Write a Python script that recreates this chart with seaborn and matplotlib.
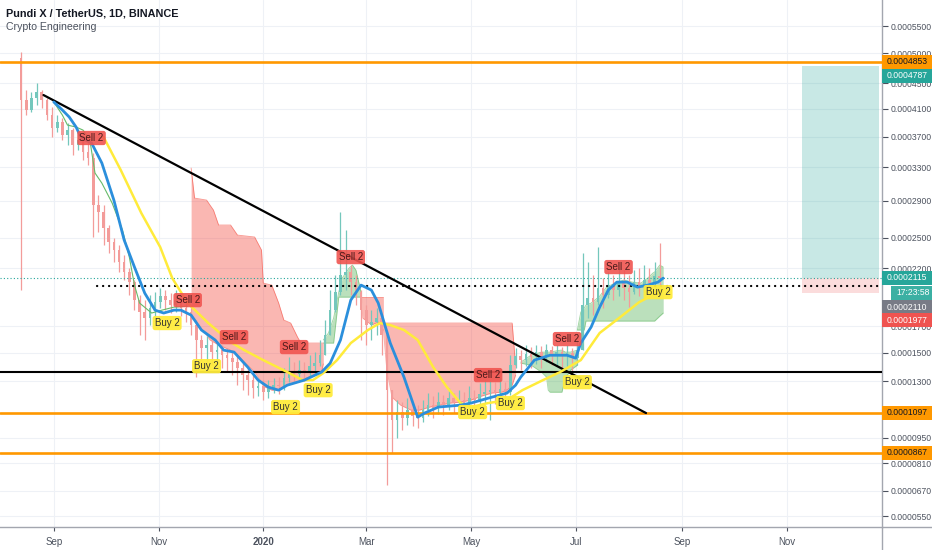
import numpy as np
import pandas as pd
import matplotlib
matplotlib.use("Agg")
import matplotlib.pyplot as plt
import matplotlib.dates as mdates
from matplotlib.patches import Rectangle
from matplotlib.lines import Line2D
from matplotlib import font_manager
import seaborn as sns

# ---------------- data (all prices in units of 1e-7 USDT) ----------------
UNIT = 1e-7

candle_start = "2019-08-13"
candle_step = "3D"
first_open = 4920
candle_close = [4235, 4084, 4266, 4359, 4235, 4010, 3823, 3909, 3726, 3795,
                3590, 3658, 3497, 3418, 2850, 2772, 2600, 2456, 2376, 2259,
                2165, 2074, 1916, 1816, 1767, 1849, 1899, 1950, 1916, 1874,
                1916, 1849, 1816, 1711, 1595, 1534, 1557, 1505, 1519, 1482,
                1461, 1432, 1390, 1342, 1308, 1254, 1267, 1228, 1254, 1274,
                1267, 1321, 1363, 1349, 1376, 1363, 1404, 1425, 1482, 1633,
                1832, 1985, 2137, 2165, 2074, 1985, 1832, 1711, 1735, 1767,
                1633, 1241, 1053, 1102, 1065, 1114, 1077, 1065, 1114, 1145,
                1127, 1164, 1145, 1189, 1158, 1177, 1152, 1189, 1177, 1215,
                1228, 1241, 1222, 1248, 1228, 1411, 1475, 1447, 1490, 1468,
                1505, 1475, 1519, 1482, 1505, 1475, 1497, 1461, 1519, 1874,
                1933, 1899, 2020, 1959, 2047, 2003, 2074, 2020, 1985, 2074,
                2038, 2092, 2065, 2128, 2115]
candle_high = [5025, 4391, 4359, 4503, 4391, 4266, 4129, 4010, 3966, 3894,
               3823, 3768, 3685, 3658, 3484, 2965, 2850, 2632, 2497, 2425,
               2327, 2202, 2092, 1959, 1916, 1959, 1985, 2020, 2003, 1976,
               2003, 1950, 1916, 1874, 1751, 1633, 1625, 1595, 1572, 1557,
               1534, 1519, 1482, 1432, 1390, 1342, 1321, 1308, 1308, 1321,
               1328, 1390, 1468, 1432, 1447, 1432, 1482, 1505, 1595, 1751,
               2003, 2137, 2772, 2579, 2231, 2137, 2003, 1874, 1832, 1849,
               1791, 1672, 1209, 1177, 1164, 1189, 1158, 1145, 1177, 1222,
               1202, 1228, 1209, 1254, 1222, 1241, 1228, 1267, 1241, 1288,
               1308, 1308, 1294, 1321, 1294, 1482, 1534, 1519, 1557, 1542,
               1557, 1549, 1564, 1549, 1557, 1542, 1557, 1534, 1595, 2346,
               2259, 2137, 2405, 2110, 2165, 2137, 2202, 2184, 2137, 2184,
               2202, 2231, 2202, 2259, 2446]
candle_low = [2003, 4010, 4055, 4159, 4114, 3937, 3698, 3768, 3658, 3590,
              3457, 3523, 3393, 3329, 2507, 2559, 2425, 2346, 2259, 2165,
              2092, 1959, 1832, 1633, 1595, 1711, 1767, 1849, 1832, 1808,
              1816, 1783, 1735, 1633, 1328, 1447, 1432, 1411, 1432, 1390,
              1363, 1342, 1274, 1241, 1209, 1189, 1202, 1177, 1189, 1222,
              1215, 1241, 1294, 1288, 1308, 1301, 1328, 1349, 1404, 1519,
              1672, 1816, 1959, 2003, 1959, 1874, 1595, 1557, 1595, 1633,
              1482, 697, 864, 948, 994, 1023, 1017, 1005, 1041, 1077,
              1065, 1089, 1083, 1114, 1096, 1102, 1089, 1114, 1102, 1145,
              1158, 1053, 1152, 1177, 1164, 1209, 1390, 1376, 1404, 1390,
              1418, 1390, 1432, 1411, 1404, 1376, 1390, 1363, 1411, 1519,
              1767, 1791, 1874, 1849, 1933, 1916, 1950, 1916, 1857, 1968,
              1950, 1985, 1976, 2003, 2047]

blue_dates = ["2019-09-01", "2019-09-06", "2019-09-10", "2019-09-14", "2019-09-17",
              "2019-09-23", "2019-09-29", "2019-10-06", "2019-10-12", "2019-10-18",
              "2019-10-24", "2019-10-30", "2019-11-04", "2019-11-10", "2019-11-14",
              "2019-11-20", "2019-11-26", "2019-12-04", "2019-12-09", "2019-12-15",
              "2019-12-23", "2019-12-29", "2020-01-04", "2020-01-10", "2020-01-15",
              "2020-01-25", "2020-02-04", "2020-02-09", "2020-02-15", "2020-02-21",
              "2020-02-27", "2020-03-04", "2020-03-08", "2020-03-15", "2020-03-23",
              "2020-03-31", "2020-04-04", "2020-04-12", "2020-04-25", "2020-05-01",
              "2020-05-11", "2020-05-22", "2020-05-27", "2020-05-30", "2020-06-07",
              "2020-06-16", "2020-06-26", "2020-07-01", "2020-07-04", "2020-07-10",
              "2020-07-15", "2020-07-20", "2020-07-25", "2020-07-31", "2020-08-06",
              "2020-08-12", "2020-08-18", "2020-08-21"]
blue_price = [4205, 4084, 3981, 3837, 3685, 3617, 3354, 2907, 2476, 2212,
              1976, 1832, 1808, 1832, 1832, 1791, 1672, 1595, 1519, 1505,
              1397, 1308, 1261, 1241, 1274, 1308, 1363, 1425, 1595, 1916,
              2047, 2003, 1891, 1572, 1328, 1071, 1096, 1133, 1145, 1158,
              1189, 1222, 1274, 1328, 1447, 1482, 1482, 1461, 1572, 1695,
              1857, 2003, 2074, 2074, 2029, 2047, 2074, 2110]

yellow_dates = ["2019-09-30", "2019-10-10", "2019-10-22", "2019-11-02", "2019-11-09",
                "2019-11-18", "2019-11-30", "2019-12-13", "2019-12-21", "2020-01-01",
                "2020-01-15", "2020-01-24", "2020-01-30", "2020-02-05", "2020-02-13",
                "2020-02-21", "2020-03-02", "2020-03-09", "2020-03-15", "2020-03-23",
                "2020-03-31", "2020-04-09", "2020-04-17", "2020-04-25", "2020-05-01",
                "2020-05-11", "2020-05-22", "2020-05-31", "2020-06-12", "2020-06-22",
                "2020-07-04", "2020-07-15", "2020-07-27", "2020-08-07", "2020-08-17",
                "2020-08-21"]
yellow_price = [3698, 3266, 2761, 2405, 2110, 1891, 1727, 1580, 1519, 1447,
                1363, 1308, 1308, 1356, 1447, 1572, 1672, 1727, 1711, 1672,
                1595, 1397, 1261, 1158, 1133, 1158, 1177, 1241, 1308, 1363,
                1447, 1649, 1775, 1899, 1976, 2003]

thin_dates = ["2019-09-01", "2019-09-06", "2019-09-09", "2019-09-14", "2019-09-18",
              "2019-09-22", "2019-09-25", "2019-09-29", "2019-10-05", "2019-10-11",
              "2019-10-15", "2019-10-18", "2019-10-21", "2019-10-28", "2019-11-03",
              "2019-11-10", "2019-11-18"]
thin_price = [4205, 4010, 3865, 3837, 3795, 3658, 3229, 3106, 2873, 2579,
              2307, 2047, 1891, 1808, 1832, 1857, 1865]

# clouds
red_a_dates = ["2019-11-20", "2019-11-22", "2019-11-29", "2019-12-01", "2019-12-03",
               "2019-12-06", "2019-12-13", "2019-12-17", "2019-12-27", "2019-12-31",
               "2020-01-01", "2020-01-06", "2020-01-10", "2020-01-13", "2020-01-17",
               "2020-01-21", "2020-01-23", "2020-02-04", "2020-02-05"]
red_a_top = [3291, 2930, 2907, 2850, 2795, 2632, 2632, 2527, 2507, 2376,
             2065, 2047, 1891, 1751, 1727, 1617, 1572, 1572, 1572]
red_a_bot = [1767, 1751, 1633, 1595, 1580, 1557, 1519, 1482, 1363, 1294,
             1267, 1241, 1241, 1267, 1281, 1294, 1308, 1363, 1420]

green_b_dates = ["2020-02-05", "2020-02-08", "2020-02-11", "2020-02-14", "2020-02-16",
                 "2020-02-20", "2020-02-22", "2020-02-24", "2020-02-27"]
green_b_top = [1595, 1649, 1767, 1985, 2110, 2202, 2231, 2184, 1985]
green_b_bot = [1572, 1572, 1572, 1942, 1942, 1942, 1942, 1942, 1942]

red_d_dates = ["2020-02-27", "2020-02-28", "2020-03-04", "2020-03-08", "2020-03-11"]
red_d_top = [1942, 1942, 1942, 1942, 1942]
red_d_bot = [1942, 1767, 1711, 1735, 1672]

red_e_dates = ["2020-03-11", "2020-03-13", "2020-03-16", "2020-03-21", "2020-03-27",
               "2020-04-01", "2020-04-07", "2020-04-13", "2020-04-19", "2020-04-25",
               "2020-05-01", "2020-05-07", "2020-05-13", "2020-05-19", "2020-05-22",
               "2020-05-25", "2020-05-27"]
red_e_top = [1727, 1727, 1727, 1727, 1727, 1727, 1727, 1727, 1727, 1727,
             1727, 1727, 1727, 1727, 1727, 1727, 1411]
red_e_bot = [1672, 1376, 1196, 1145, 1114, 1114, 1133, 1145, 1158, 1164,
             1177, 1202, 1222, 1228, 1241, 1274, 1342]

green_g_dates = ["2020-05-30", "2020-06-05", "2020-06-11", "2020-06-14", "2020-06-15",
                 "2020-06-16", "2020-06-22", "2020-06-23", "2020-06-25", "2020-06-28",
                 "2020-07-02"]
green_g_top = [1432, 1482, 1505, 1505, 1505, 1505, 1519, 1519, 1505, 1505, 1519]
green_g_bot = [1425, 1411, 1363, 1328, 1241, 1228, 1228, 1228, 1321, 1376, 1411]

green_h_dates = ["2020-07-02", "2020-07-04", "2020-07-06", "2020-07-07", "2020-07-10",
                 "2020-07-15", "2020-07-19", "2020-07-24", "2020-07-29", "2020-08-03",
                 "2020-08-08", "2020-08-12", "2020-08-15", "2020-08-16", "2020-08-19",
                 "2020-08-21"]
green_h_top = [1672, 1816, 1849, 1874, 1891, 1950, 2029, 2065, 2092, 2074,
               2065, 2110, 2156, 2165, 2231, 2212]
green_h_bot = [1672, 1672, 1672, 1743, 1743, 1743, 1743, 1743, 1743, 1743,
               1743, 1743, 1743, 1743, 1783, 1808]

sell_dates = ["2019-09-23", "2019-11-18", "2019-12-15", "2020-01-19",
              "2020-02-21", "2020-05-11", "2020-06-26", "2020-07-26"]
sell_price = [3685, 1916, 1617, 1542, 2307, 1342, 1602, 2212]
buy_dates = ["2019-11-06", "2019-11-29", "2020-01-14", "2020-02-02",
             "2020-05-02", "2020-05-24", "2020-07-02", "2020-08-18"]
buy_price = [1727, 1404, 1133, 1241, 1102, 1158, 1294, 1985]

trend_dates = ["2019-08-26", "2020-08-11"]
trend_price = [4312, 1096]
orange_levels = [4853, 1097, 867]
black_level = 1363
dotted_level = 2038
dotted_start = "2019-09-26"
last_price = 2115
position_dates = ["2020-11-10", "2020-12-25"]
position_target = 4787
position_stop = 1977

y_ticks = [5500, 5000, 4500, 4100, 3700, 3300, 2900, 2500, 2200, 1700,
           1500, 1300, 950, 810, 670, 550]
month_ticks = ["2019-09-01", "2019-11-01", "2020-01-01", "2020-03-01",
               "2020-05-01", "2020-07-01", "2020-09-01", "2020-11-01"]
month_labels = ["Sep", "Nov", "2020", "Mar", "May", "Jul", "Sep", "Nov"]

# ---------------- style ----------------
sns.set_theme(style="white")
names = {f.name for f in font_manager.fontManager.ttflist}
NARROW = "Liberation Sans Narrow" if "Liberation Sans Narrow" in names else "Liberation Sans"
plt.rcParams["font.family"] = [NARROW, "DejaVu Sans"]
SCALE_FS = 7 if NARROW == "Liberation Sans Narrow" else 6.2

W, H = 932, 550
fig = plt.figure(figsize=(W / 100, H / 100), dpi=100, facecolor="white")
ax = fig.add_axes([0, 23 / H, 882 / W, 527 / H])
ax.set_facecolor("white")

OFF = 1e-4


def fwd(v):
    return np.log(np.maximum(np.asarray(v, dtype=float) + OFF, 1e-9))


def inv(u):
    return np.exp(u) - OFF


ax.set_yscale("function", functions=(fwd, inv))


def dn(d):
    return mdates.date2num(pd.to_datetime(d))


def pr(v):
    return np.asarray(v, dtype=float) * UNIT


x_left = dn("2019-07-31 16:00")
x_right = dn("2020-12-26 11:00")

# clouds
RED = "#f44336"
GRN = "#4caf50"
for dts, top, bot, colr in [
    (red_a_dates, red_a_top, red_a_bot, RED),
    (green_b_dates, green_b_top, green_b_bot, GRN),
    (red_d_dates, red_d_top, red_d_bot, RED),
    (red_e_dates, red_e_top, red_e_bot, RED),
    (green_g_dates, green_g_top, green_g_bot, GRN),
    (green_h_dates, green_h_top, green_h_bot, GRN),
]:
    xs = dn(dts)
    ax.fill_between(xs, pr(top), pr(bot), color=colr, alpha=0.38, lw=0, zorder=1.5)
    ax.plot(xs, pr(top), color=colr, lw=0.6, alpha=0.55, zorder=1.6)
    ax.plot(xs, pr(bot), color=colr, lw=0.6, alpha=0.45, zorder=1.6)

# long position box
px = dn(position_dates)
ax.fill_between(px, pr([last_price] * 2), pr([position_target] * 2),
                color="#26a69a", alpha=0.25, lw=0, zorder=1)
ax.fill_between(px, pr([position_stop] * 2), pr([last_price] * 2),
                color="#ef5350", alpha=0.2, lw=0, zorder=1)

# candles
cd = pd.date_range(candle_start, periods=len(candle_close), freq=candle_step)
cx = mdates.date2num(cd)
c = pr(candle_close)
o = pr([first_open] + candle_close[:-1])
hi = np.maximum(pr(candle_high), np.maximum(o, c))
lo = np.minimum(pr(candle_low), np.minimum(o, c))
up = c >= o
ccol = np.where(up, "#74c7bc", "#f39c9a")
ax.vlines(cx, lo, hi, colors=ccol, lw=0.9, zorder=2)
ax.bar(cx, np.maximum(np.abs(c - o), 1.5 * UNIT), bottom=np.minimum(o, c),
       width=1.5, color=ccol, lw=0, zorder=2)

# horizontal levels
for lv in orange_levels:
    ax.axhline(lv * UNIT, color="#ff9800", lw=1.9, zorder=3)
ax.axhline(black_level * UNIT, color="black", lw=1.5, zorder=3)
ax.axhline(last_price * UNIT, color="#26a69a", lw=0.8, ls=(0, (1, 2)), zorder=3)
ax.plot([dn(dotted_start), x_right], [dotted_level * UNIT] * 2, color="black",
        lw=1.6, ls=(0, (0.1, 2.6)), dash_capstyle="round", zorder=3)

# trend line
ax.plot(dn(trend_dates), pr(trend_price), color="black", lw=1.6, zorder=3.5,
        solid_capstyle="round")

# indicator lines
sns.lineplot(x=dn(thin_dates), y=pr(thin_price), ax=ax, color="#66bb6a",
             lw=0.8, sort=False, estimator=None, zorder=3.6)
sns.lineplot(x=dn(yellow_dates), y=pr(yellow_price), ax=ax, color="#ffeb3b",
             lw=1.8, sort=False, estimator=None, zorder=3.7)
sns.lineplot(x=dn(blue_dates), y=pr(blue_price), ax=ax, color="#2b8fdc",
             lw=2.0, sort=False, estimator=None, zorder=3.8)

# signal labels
for d, p in zip(sell_dates, sell_price):
    ax.text(dn(d), p * UNIT, "Sell 2", ha="center", va="center", fontsize=7,
            color="#4a1a1a", zorder=6,
            bbox=dict(boxstyle="round,pad=0.22,rounding_size=0.25",
                      fc="#f05450", ec="none", alpha=0.9))
for d, p in zip(buy_dates, buy_price):
    ax.text(dn(d), p * UNIT, "Buy 2", ha="center", va="center", fontsize=7,
            color="#333333", zorder=6,
            bbox=dict(boxstyle="round,pad=0.22,rounding_size=0.25",
                      fc="#ffeb3b", ec="none", alpha=0.95))

# axes limits, ticks, grid
ax.set_xlim(x_left, x_right)
ax.set_ylim(502 * UNIT, 6014 * UNIT)
ax.yaxis.tick_right()
ax.set_yticks(pr(y_ticks))
ax.set_yticklabels([f"{t * UNIT:.7f}" for t in y_ticks])
ax.yaxis.set_minor_locator(matplotlib.ticker.NullLocator())
ax.set_xticks(dn(month_ticks))
ax.set_xticklabels(month_labels)
ax.tick_params(axis="y", which="major", right=True, length=4, width=0.8,
               pad=2, labelsize=SCALE_FS, colors="#4c525e")
ax.tick_params(axis="x", which="major", bottom=True, length=3, width=0.8,
               pad=4, labelsize=7, colors="#4c525e")
ax.get_xticklabels()[2].set_fontweight("bold")
ax.set_xlabel("")
ax.set_ylabel("")
ax.grid(True, color="#eef1f6", lw=0.8)
ax.set_axisbelow(True)
for s in ["left", "top"]:
    ax.spines[s].set_visible(False)
for s in ["right", "bottom"]:
    ax.spines[s].set_color("#a3a6af")
    ax.spines[s].set_linewidth(1.0)

# extensions of the axis frame into the price scale / time scale
fig.add_artist(Line2D([882 / W, 1], [23 / H, 23 / H], color="#a3a6af", lw=1.0,
                      transform=fig.transFigure))
fig.add_artist(Line2D([882 / W, 882 / W], [0, 23 / H], color="#a3a6af", lw=1.0,
                      transform=fig.transFigure))

# price-scale tags
fig.canvas.draw()


def ypix(v):
    return ax.transData.transform((x_left, v * UNIT))[1]


tags = [
    (4853, "0.0004853", "#ff9800", "#131722", 0, 882),
    (4787, "0.0004787", "#26a69a", "white", -10, 882),
    (last_price, "0.0002115", "#26a69a", "white", 0, 882),
    (last_price, "17:23:58", "#3bb0a3", "white", -15, 891),
    (2110, "0.0002110", "#787b86", "white", -29, 882),
    (position_stop, "0.0001977", "#ef5350", "white", -27, 882),
    (1097, "0.0001097", "#ff9800", "#131722", 0, 882),
    (867, "0.0000867", "#ff9800", "#131722", 0, 882),
]
for v, txt, bg, fg, dy, x0 in tags:
    yc = ypix(v) + dy
    fig.add_artist(Rectangle((x0 / W, (yc - 7) / H), (W - x0) / W, 14 / H,
                             transform=fig.transFigure, fc=bg, ec="none", zorder=5))
    fig.text((x0 + 5) / W, yc / H, txt, ha="left", va="center", fontsize=SCALE_FS,
             color=fg, zorder=6)

# title
fig.text(6 / W, 1 - 13 / H, "Pundi X / TetherUS, 1D, BINANCE", ha="left",
         va="center", fontsize=7.8, color="#131722", fontweight="bold")
fig.text(6 / W, 1 - 27 / H, "Crypto Engineering", ha="left", va="center",
         fontsize=7.6, color="#4c525e")

fig.savefig("out.png", dpi=100, facecolor="white")
